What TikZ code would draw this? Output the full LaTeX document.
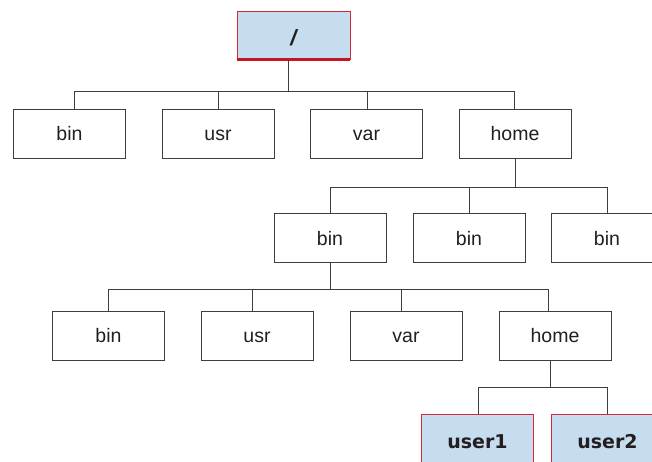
\documentclass[tikz,border=0pt]{standalone}
\usepackage{fontspec}
\setmainfont{Liberation Sans}
\newfontfamily\heavyfont{DejaVu Sans}
\definecolor{boxline}{RGB}{62,62,62}
\definecolor{ink}{RGB}{35,31,32}
\definecolor{hired}{RGB}{212,40,52}
\definecolor{deepred}{RGB}{196,22,34}
\definecolor{hiblue}{RGB}{198,220,239}
\begin{document}
\begin{tikzpicture}[x=1pt,y=-1pt,
  box/.style={draw=boxline, line width=0.9pt, fill=white,
    minimum width=112pt, minimum height=49pt, inner sep=0pt,
    text height=14pt, text depth=0pt, text=ink,
    font=\fontsize{19.5}{23}\selectfont},
  hl/.style={box, draw=hired, fill=hiblue, text height=20pt,
    font=\heavyfont\bfseries\fontsize{19}{23}\selectfont},
  link/.style={draw=boxline, line width=0.9pt}]
\useasboundingbox (0,0) rectangle (652,462);
\clip (0,0) rectangle (652,462);

% root directory
\node[hl, minimum width=113pt, minimum height=48pt, text height=21pt,
  font=\bfseries\itshape\fontsize{22}{26}\selectfont] (root) at (293.5,35) {/};
\draw[deepred, line width=3pt] (root.south west) -- (root.south east);

% first level
\node[box] (bin1)  at (69.5,133.5) {bin};
\node[box] (usr1)  at (218,133.5)  {usr};
\node[box] (var1)  at (366.5,133.5) {var};
\node[box] (home1) at (515,133.5)  {home};

% second level
\node[box] (binA) at (330,238) {bin};
\node[box] (binB) at (469,238) {bin};
\node[box] (binC) at (607,238) {bin};

% third level
\node[box] (bin3)  at (108.5,335.5) {bin};
\node[box] (usr3)  at (257,335.5)   {usr};
\node[box] (var3)  at (406,335.5)   {var};
\node[box] (home3) at (555,335.5)   {home};

% user directories
\node[hl] (user1) at (477.5,438.5) {user1};
\node[hl] (user2) at (607.5,438.5) {user2};

% junctions on the horizontal buses
\coordinate (j0) at (288,91);
\coordinate (j1) at (515,187);
\coordinate (j2) at (330,289);
\coordinate (j3) at (550,387);

% tree links
\draw[link] ([xshift=-5.5pt,yshift=-1.5pt]root.south) -- (j0);
\draw[link] ([xshift=4.5pt]bin1.north) |- (j0);
\draw[link] (usr1.north) |- (j0);
\draw[link] ([xshift=0.5pt]var1.north) |- (j0);
\draw[link] ([xshift=-1pt]home1.north) |- (j0);

\draw[link] (home1.south) -- (j1);
\draw[link] (binA.north) |- (j1);
\draw[link] (binB.north) |- (j1);
\draw[link] (binC.north) |- (j1);

\draw[link] (binA.south) -- (j2);
\draw[link] ([xshift=-0.5pt]bin3.north) |- (j2);
\draw[link] ([xshift=-5pt]usr3.north) |- (j2);
\draw[link] ([xshift=-5pt]var3.north) |- (j2);
\draw[link] ([xshift=-7pt]home3.north) |- (j2);

\draw[link] ([xshift=-5pt]home3.south) -- (j3);
\draw[link] ([xshift=0.5pt]user1.north) |- (j3);
\draw[link] ([xshift=-0.5pt]user2.north) |- (j3);
\end{tikzpicture}
\end{document}
